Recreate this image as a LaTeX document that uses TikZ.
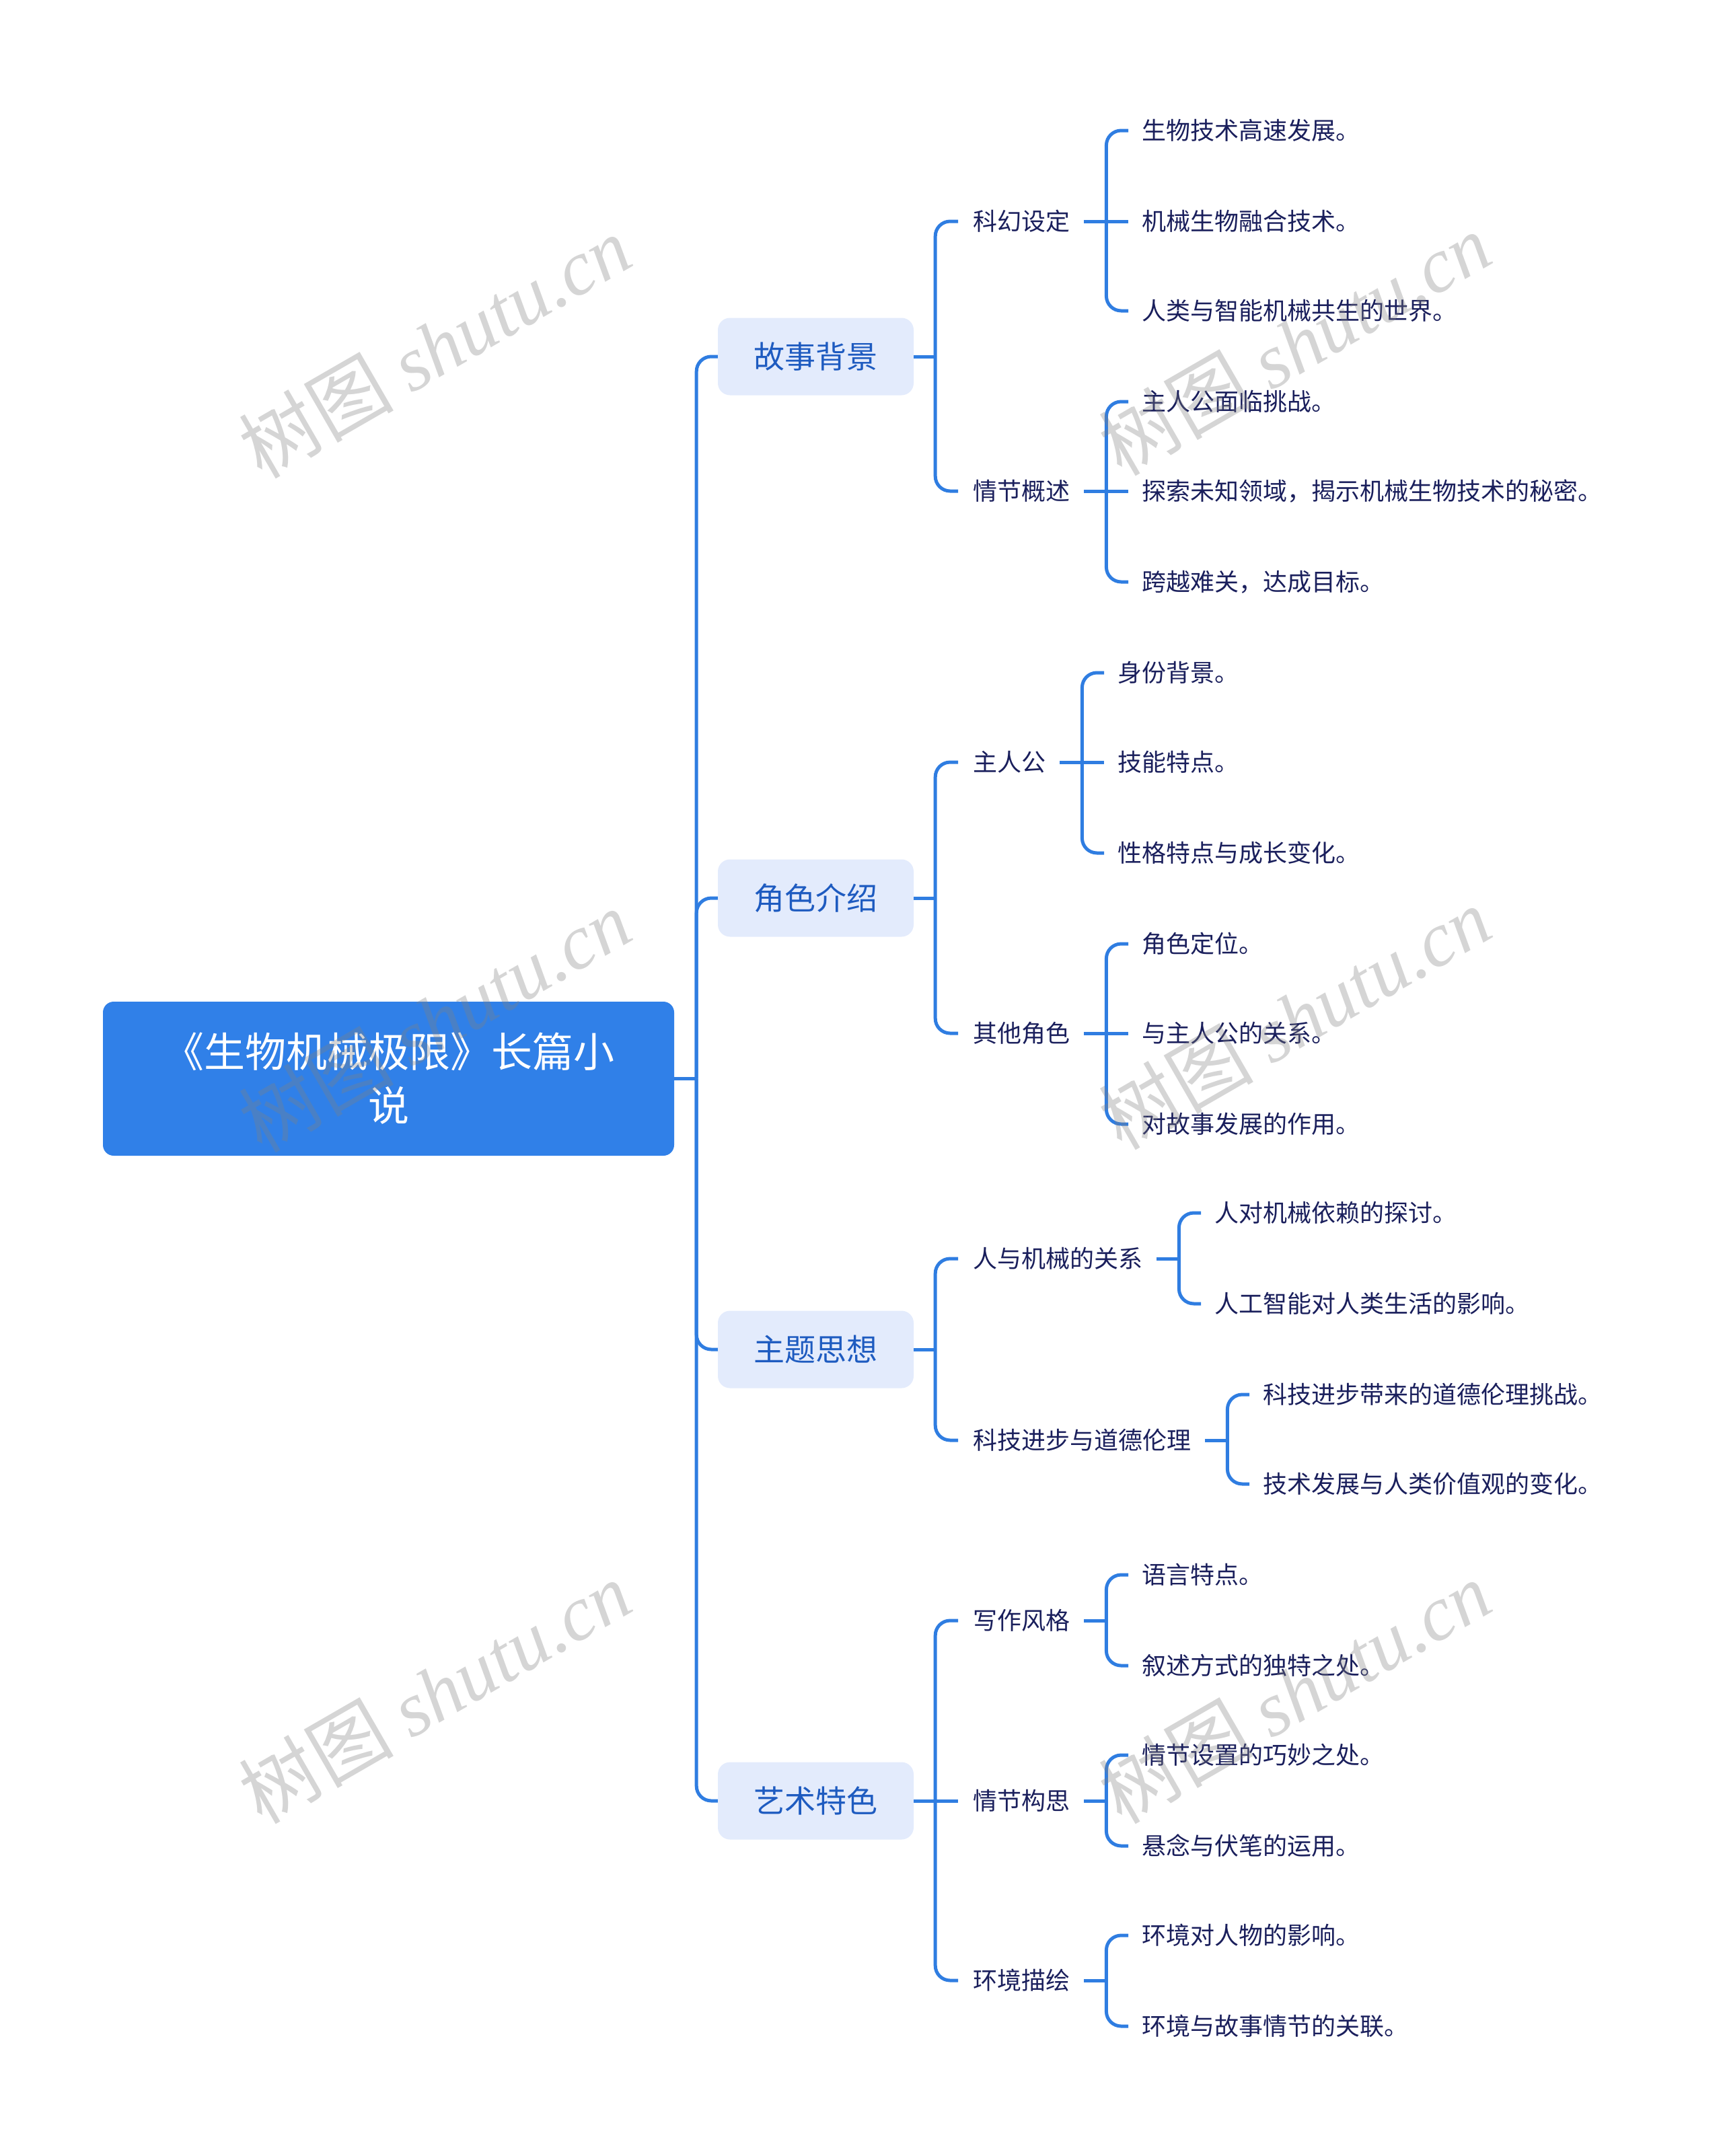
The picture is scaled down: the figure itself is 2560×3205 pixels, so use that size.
\documentclass[tikz,border=0pt]{standalone}
\usepackage{fontspec}
\setmainfont{Noto Sans CJK SC}
\newfontfamily\wmlatin{Liberation Serif}
\usetikzlibrary{calc}
\definecolor{linec}{HTML}{2F7DE1}
\definecolor{rootc}{HTML}{3080E8}
\definecolor{topicfill}{HTML}{E3EBFC}
\definecolor{topictext}{HTML}{1E5BC0}
\definecolor{darktext}{HTML}{1A1F5C}
\definecolor{wmc}{HTML}{808080}
\begin{document}
\begin{tikzpicture}[x=1pt,y=-1pt,
  rootbox/.style={fill=rootc, rounded corners=16pt, minimum width=849pt, minimum height=229pt,
    text=white, font=\fontsize{61}{80}\selectfont, align=center, inner sep=0pt},
  topic/.style={fill=topicfill, rounded corners=18pt, minimum width=291pt, minimum height=115pt,
    text=topictext, font=\fontsize{46}{50}\selectfont, inner sep=0pt},
  sub/.style={anchor=west, text=darktext, font=\fontsize{36}{40}\selectfont, inner sep=0pt},
  leaf/.style={anchor=west, text=darktext, font=\fontsize{36}{40}\selectfont, inner sep=0pt},
  conn/.style={draw=linec, line width=5pt, rounded corners=22pt},
  wm/.style={rotate=30, text=wmc, opacity=0.33, font=\fontsize{115}{120}\selectfont, inner sep=0pt}
]
\useasboundingbox (0,0) rectangle (2560,3205);

% root
\node[rootbox] (root) at (577.5,1603.5) {《生物机械极限》长篇小\\说};

% level 1
\node[topic] (t1) at (1212.5,530) {故事背景};
\node[topic] (t2) at (1212.5,1335) {角色介绍};
\node[topic] (t3) at (1212.5,2006) {主题思想};
\node[topic] (t4) at (1212.5,2677) {艺术特色};

% level 2
\node[sub] (k1) at (1446,329) {科幻设定};
\node[sub] (k2) at (1446,730) {情节概述};
\node[sub] (k3) at (1446,1133) {主人公};
\node[sub] (k4) at (1446,1536) {其他角色};
\node[sub] (k5) at (1446,1871) {人与机械的关系};
\node[sub] (k6) at (1446,2141) {科技进步与道德伦理};
\node[sub] (k7) at (1446,2409) {写作风格};
\node[sub] (k8) at (1446,2677) {情节构思};
\node[sub] (k9) at (1446,2944) {环境描绘};

% leaves
\node[leaf] (a11) at (1697,194) {生物技术高速发展。};
\node[leaf] (a12) at (1697,329) {机械生物融合技术。};
\node[leaf] (a13) at (1697,462) {人类与智能机械共生的世界。};
\node[leaf] (a21) at (1697,597) {主人公面临挑战。};
\node[leaf] (a22) at (1697,730) {探索未知领域，揭示机械生物技术的秘密。};
\node[leaf] (a23) at (1697,865) {跨越难关，达成目标。};
\node[leaf] (a31) at (1661,1000) {身份背景。};
\node[leaf] (a32) at (1661,1133) {技能特点。};
\node[leaf] (a33) at (1661,1268) {性格特点与成长变化。};
\node[leaf] (a41) at (1697,1403) {角色定位。};
\node[leaf] (a42) at (1697,1536) {与主人公的关系。};
\node[leaf] (a43) at (1697,1671) {对故事发展的作用。};
\node[leaf] (a51) at (1805,1803) {人对机械依赖的探讨。};
\node[leaf] (a52) at (1805,1938) {人工智能对人类生活的影响。};
\node[leaf] (a61) at (1877,2073) {科技进步带来的道德伦理挑战。};
\node[leaf] (a62) at (1877,2206) {技术发展与人类价值观的变化。};
\node[leaf] (a71) at (1697,2341) {语言特点。};
\node[leaf] (a72) at (1697,2476) {叙述方式的独特之处。};
\node[leaf] (a81) at (1697,2609) {情节设置的巧妙之处。};
\node[leaf] (a82) at (1697,2744) {悬念与伏笔的运用。};
\node[leaf] (a91) at (1697,2877) {环境对人物的影响。};
\node[leaf] (a92) at (1697,3012) {环境与故事情节的关联。};

% root -> level 1
\coordinate (rb) at ($(root.east)+(33,0)$);
\draw[conn] (root.east) -- (rb);
\foreach \t in {t1,t2,t3,t4} \draw[conn] (rb) |- (\t.west);

% level 1 -> level 2
\foreach \t in {t1,t2,t3,t4} {
  \coordinate (\t b) at ($(\t.east)+(32,0)$);
  \draw[conn] (\t.east) -- (\t b);
}
\draw[conn] (t1b) |- ([xshift=-22pt]k1.west);
\draw[conn] (t1b) |- ([xshift=-22pt]k2.west);
\draw[conn] (t2b) |- ([xshift=-22pt]k3.west);
\draw[conn] (t2b) |- ([xshift=-22pt]k4.west);
\draw[conn] (t3b) |- ([xshift=-22pt]k5.west);
\draw[conn] (t3b) |- ([xshift=-22pt]k6.west);
\draw[conn] (t4b) |- ([xshift=-22pt]k7.west);
\draw[conn] (t4b) -- ([xshift=-22pt]k8.west);
\draw[conn] (t4b) |- ([xshift=-22pt]k9.west);

% level 2 -> leaves
\foreach \k in {k1,k2,k3,k4,k5,k6,k7,k8,k9} {
  \coordinate (\k b) at ($(\k.east)+(54,0)$);
  \draw[conn] ([xshift=21pt]\k.east) -- (\k b);
}
\draw[conn] (k1b) |- ([xshift=-20pt]a11.west);
\draw[conn] (k1b) -- ([xshift=-20pt]a12.west);
\draw[conn] (k1b) |- ([xshift=-20pt]a13.west);
\draw[conn] (k2b) |- ([xshift=-20pt]a21.west);
\draw[conn] (k2b) -- ([xshift=-20pt]a22.west);
\draw[conn] (k2b) |- ([xshift=-20pt]a23.west);
\draw[conn] (k3b) |- ([xshift=-20pt]a31.west);
\draw[conn] (k3b) -- ([xshift=-20pt]a32.west);
\draw[conn] (k3b) |- ([xshift=-20pt]a33.west);
\draw[conn] (k4b) |- ([xshift=-20pt]a41.west);
\draw[conn] (k4b) -- ([xshift=-20pt]a42.west);
\draw[conn] (k4b) |- ([xshift=-20pt]a43.west);
\draw[conn] (k5b) |- ([xshift=-20pt]a51.west);
\draw[conn] (k5b) |- ([xshift=-20pt]a52.west);
\draw[conn] (k6b) |- ([xshift=-20pt]a61.west);
\draw[conn] (k6b) |- ([xshift=-20pt]a62.west);
\draw[conn] (k7b) |- ([xshift=-20pt]a71.west);
\draw[conn] (k7b) |- ([xshift=-20pt]a72.west);
\draw[conn] (k8b) |- ([xshift=-20pt]a81.west);
\draw[conn] (k8b) |- ([xshift=-20pt]a82.west);
\draw[conn] (k9b) |- ([xshift=-20pt]a91.west);
\draw[conn] (k9b) |- ([xshift=-20pt]a92.west);

% watermarks
\node[wm] (w1) at (646,515) {树图 {\wmlatin\itshape shutu.cn}};
\node[wm] (w2) at (646,1517) {树图 {\wmlatin\itshape shutu.cn}};
\node[wm] (w3) at (646,2515) {树图 {\wmlatin\itshape shutu.cn}};
\node[wm] (w4) at (1924,511) {树图 {\wmlatin\itshape shutu.cn}};
\node[wm] (w5) at (1924,1513) {树图 {\wmlatin\itshape shutu.cn}};
\node[wm] (w6) at (1924,2515) {树图 {\wmlatin\itshape shutu.cn}};
\end{tikzpicture}
\end{document}
